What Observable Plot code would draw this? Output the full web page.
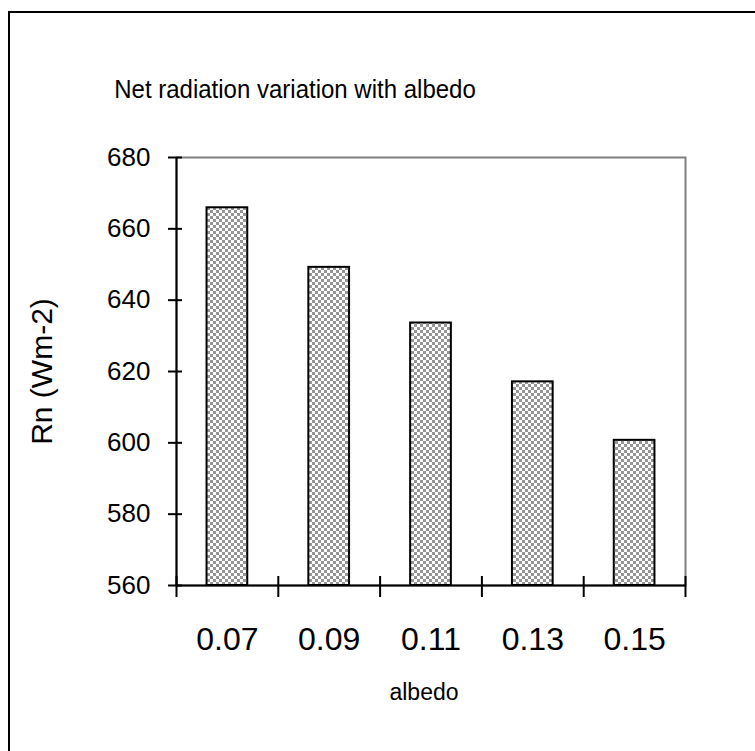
<!DOCTYPE html>
<html>
<head>
<meta charset="utf-8">
<script src="https://cdn.jsdelivr.net/npm/d3@7"></script>
<script src="https://cdn.jsdelivr.net/npm/@observablehq/plot@0.6"></script>
<style>
  html, body { margin: 0; padding: 0; background: #fff; overflow: hidden; width: 755px; height: 751px; }
  #wrap { position: relative; width: 755px; height: 751px; font-family: "Liberation Sans", Arial, sans-serif; }
  #border { position: absolute; left: 8px; top: 11px; width: 800px; height: 800px; border: 2px solid #000; box-sizing: border-box; }
  #title { position: absolute; left: 0; top: 78px; width: 590px; text-align: center; font-size: 24px; line-height: 24px; color: #000; white-space: nowrap; transform: scaleY(1.06); }
  #chart { position: absolute; left: 0; top: 0; }
</style>
</head>
<body>
<div id="wrap">
  <div id="border"></div>
  <div id="title">Net radiation variation with albedo</div>
  <div id="chart"></div>
</div>
<script>
const albedo = [0.07, 0.09, 0.11, 0.13, 0.15];
const rn = [665.9, 649.2, 633.6, 617.1, 600.7];
const yTicks = [560, 580, 600, 620, 640, 660, 680];
const xBoundaries = [0.06, 0.08, 0.10, 0.12, 0.14, 0.16];
const halfBar = 0.004;

const data = albedo.map((a, i) => ({albedo: a, rn: rn[i]}));
const font = {fontFamily: "Liberation Sans, Arial, sans-serif"};

const chart = Plot.plot({
  width: 755,
  height: 751,
  marginLeft: 176,
  marginRight: 70,
  marginTop: 157,
  marginBottom: 166,
  style: {fontFamily: "Liberation Sans, Arial, sans-serif", background: "transparent", color: "#000"},
  x: {domain: [xBoundaries[0], xBoundaries[xBoundaries.length - 1]]},
  y: {domain: [yTicks[0], yTicks[yTicks.length - 1]]},
  marks: [
    Plot.frame({stroke: "#808080", strokeWidth: 2}),
    Plot.rect(data, {
      x1: d => d.albedo - halfBar,
      x2: d => d.albedo + halfBar,
      y1: () => yTicks[0],
      y2: "rn",
      fill: "url(#checker)",
      stroke: "#000",
      strokeWidth: 2
    }),
    Plot.ruleX([xBoundaries[0]], {stroke: "#000", strokeWidth: 2}),
    Plot.ruleY([yTicks[0]], {stroke: "#000", strokeWidth: 2}),
    // y tick marks crossing the axis
    Plot.axisY({ticks: yTicks, tickSize: 14, dx: 6, tickFormat: () => "", strokeWidth: 2, label: null}),
    // y tick labels
    Plot.axisY({ticks: yTicks, tickSize: 0, tickPadding: 26, fontSize: 26, ...font, label: null}),
    Plot.axisY({ticks: [], tickSize: 0, fontSize: 30, ...font,
      label: "Rn (Wm-2)", labelAnchor: "center", labelOffset: 146, labelArrow: "none"}),
    // x tick marks at category boundaries
    Plot.axisX({ticks: xBoundaries, tickSize: 21, dy: -9, tickFormat: () => "", strokeWidth: 2, label: null}),
    // x tick labels at category centers
    Plot.axisX({ticks: albedo, tickSize: 0, tickPadding: 42, fontSize: 32, tickFormat: d3.format(".2f"), ...font, label: null}),
    Plot.axisX({ticks: [], tickSize: 0, label: "albedo", labelAnchor: "center", labelOffset: 114, fontSize: 23, labelArrow: "none", ...font})
  ]
});

const svg = d3.select(chart);
const defs = svg.insert("defs", ":first-child");
const pat = defs.append("pattern")
  .attr("id", "checker")
  .attr("patternUnits", "userSpaceOnUse")
  .attr("width", 6)
  .attr("height", 6);
pat.append("rect").attr("width", 6).attr("height", 6).attr("fill", "#ffffff");
pat.append("rect").attr("width", 3).attr("height", 3).attr("fill", "#969696");
pat.append("rect").attr("x", 3).attr("y", 3).attr("width", 3).attr("height", 3).attr("fill", "#969696");

// nudge the x-axis title slightly left, as in the reference
svg.selectAll("g[aria-label='x-axis label']").attr("transform", function () {
  const t = this.getAttribute("transform") || "";
  return t + " translate(-7,0)";
});

document.getElementById("chart").appendChild(chart);
</script>
</body>
</html>
